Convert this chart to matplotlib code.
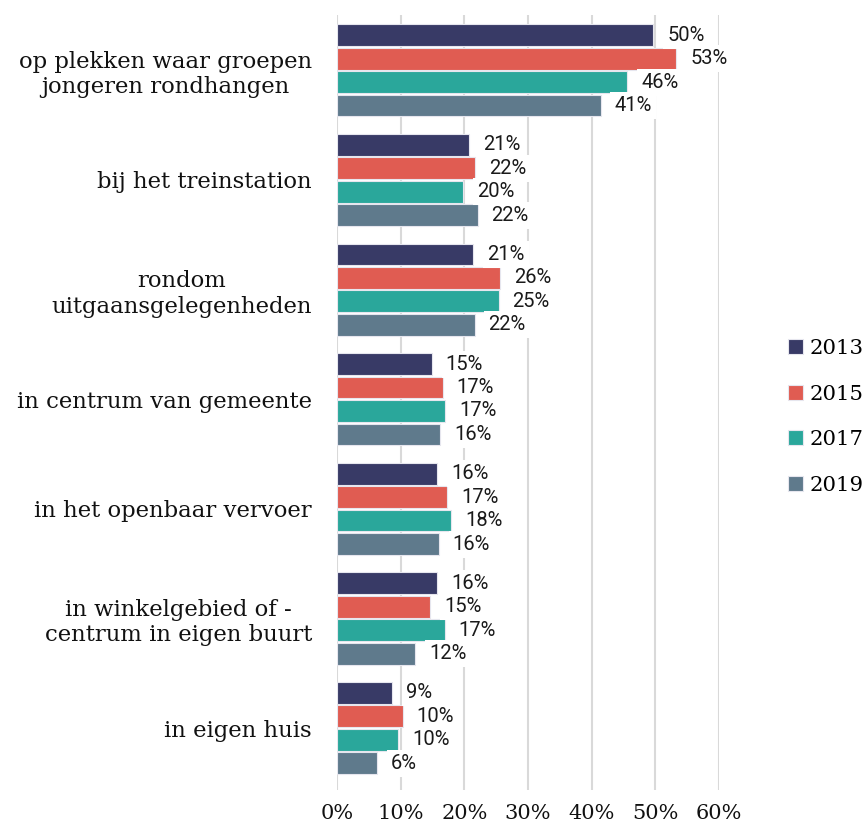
import matplotlib.pyplot as plt
import numpy as np

categories = ['op plekken waar groepen\njongeren rondhangen',
              'bij het treinstation',
              'rondom\nuitgaansgelegenheden',
              'in centrum van gemeente',
              'in het openbaar vervoer',
              'in winkelgebied of -\ncentrum in eigen buurt',
              'in eigen huis']
years = ['2013', '2015', '2017', '2019']
v2013 = [49.7, 20.7, 21.4, 14.9, 15.7, 15.7, 8.7]
v2015 = [53.3, 21.7, 25.6, 16.6, 17.3, 14.6, 10.3]
v2017 = [45.6, 19.8, 25.4, 17.0, 17.9, 16.9, 9.6]
v2019 = [41.4, 22.1, 21.6, 16.2, 16.0, 12.3, 6.3]
colors = ['#383A66', '#E05C52', '#2AA79B', '#5F7A8C']
xticks = [0, 10, 20, 30, 40, 50, 60]

fig = plt.figure(figsize=(8.67, 8.25), dpi=100)
ax = fig.add_axes([0.3887, 0.0424, 0.4406, 0.9394])

y = np.arange(len(categories))
h = 0.214
for i, (vals, c, yr) in enumerate(zip([v2013, v2015, v2017, v2019], colors, years)):
    bars = ax.barh(y - 1.5 * h + i * h, vals, height=h * 0.93, color=c,
                   edgecolor='#E6E6EE', linewidth=0.8, label=yr, zorder=2)
    ax.bar_label(bars, labels=['%d%%' % round(v) for v in vals], padding=10,
                 fontsize=14.5, family='Roboto', color='#1A1A1A', zorder=4,
                 bbox=dict(boxstyle='square,pad=0.2', fc='white', ec='none'))

ax.set_xlim(0, 60)
ax.set_ylim(6.565, -0.505)
ax.set_xticks(xticks)
ax.set_xticklabels(['%d%%' % t for t in xticks], family='DejaVu Serif', fontsize=15)
ax.set_yticks(y)
ax.set_yticklabels(categories, family='DejaVu Serif', fontsize=16.4,
                   multialignment='center')
ax.tick_params(axis='both', length=0, colors='#111111')
ax.tick_params(axis='y', pad=18)
ax.tick_params(axis='x', pad=10)
ax.xaxis.grid(True, color='#D9D9D9', linewidth=1.5, zorder=0)
ax.set_axisbelow(True)
for s in ax.spines.values():
    s.set_visible(False)

leg = ax.legend(loc='center left', bbox_to_anchor=(0.909, 0.4945),
                bbox_transform=fig.transFigure, frameon=False,
                prop={'family': 'DejaVu Serif', 'size': 15.3},
                handlelength=0.7, handleheight=0.7, handletextpad=0.3,
                labelspacing=1.25, borderpad=0, borderaxespad=0)

plt.savefig('out.png', dpi=100)
